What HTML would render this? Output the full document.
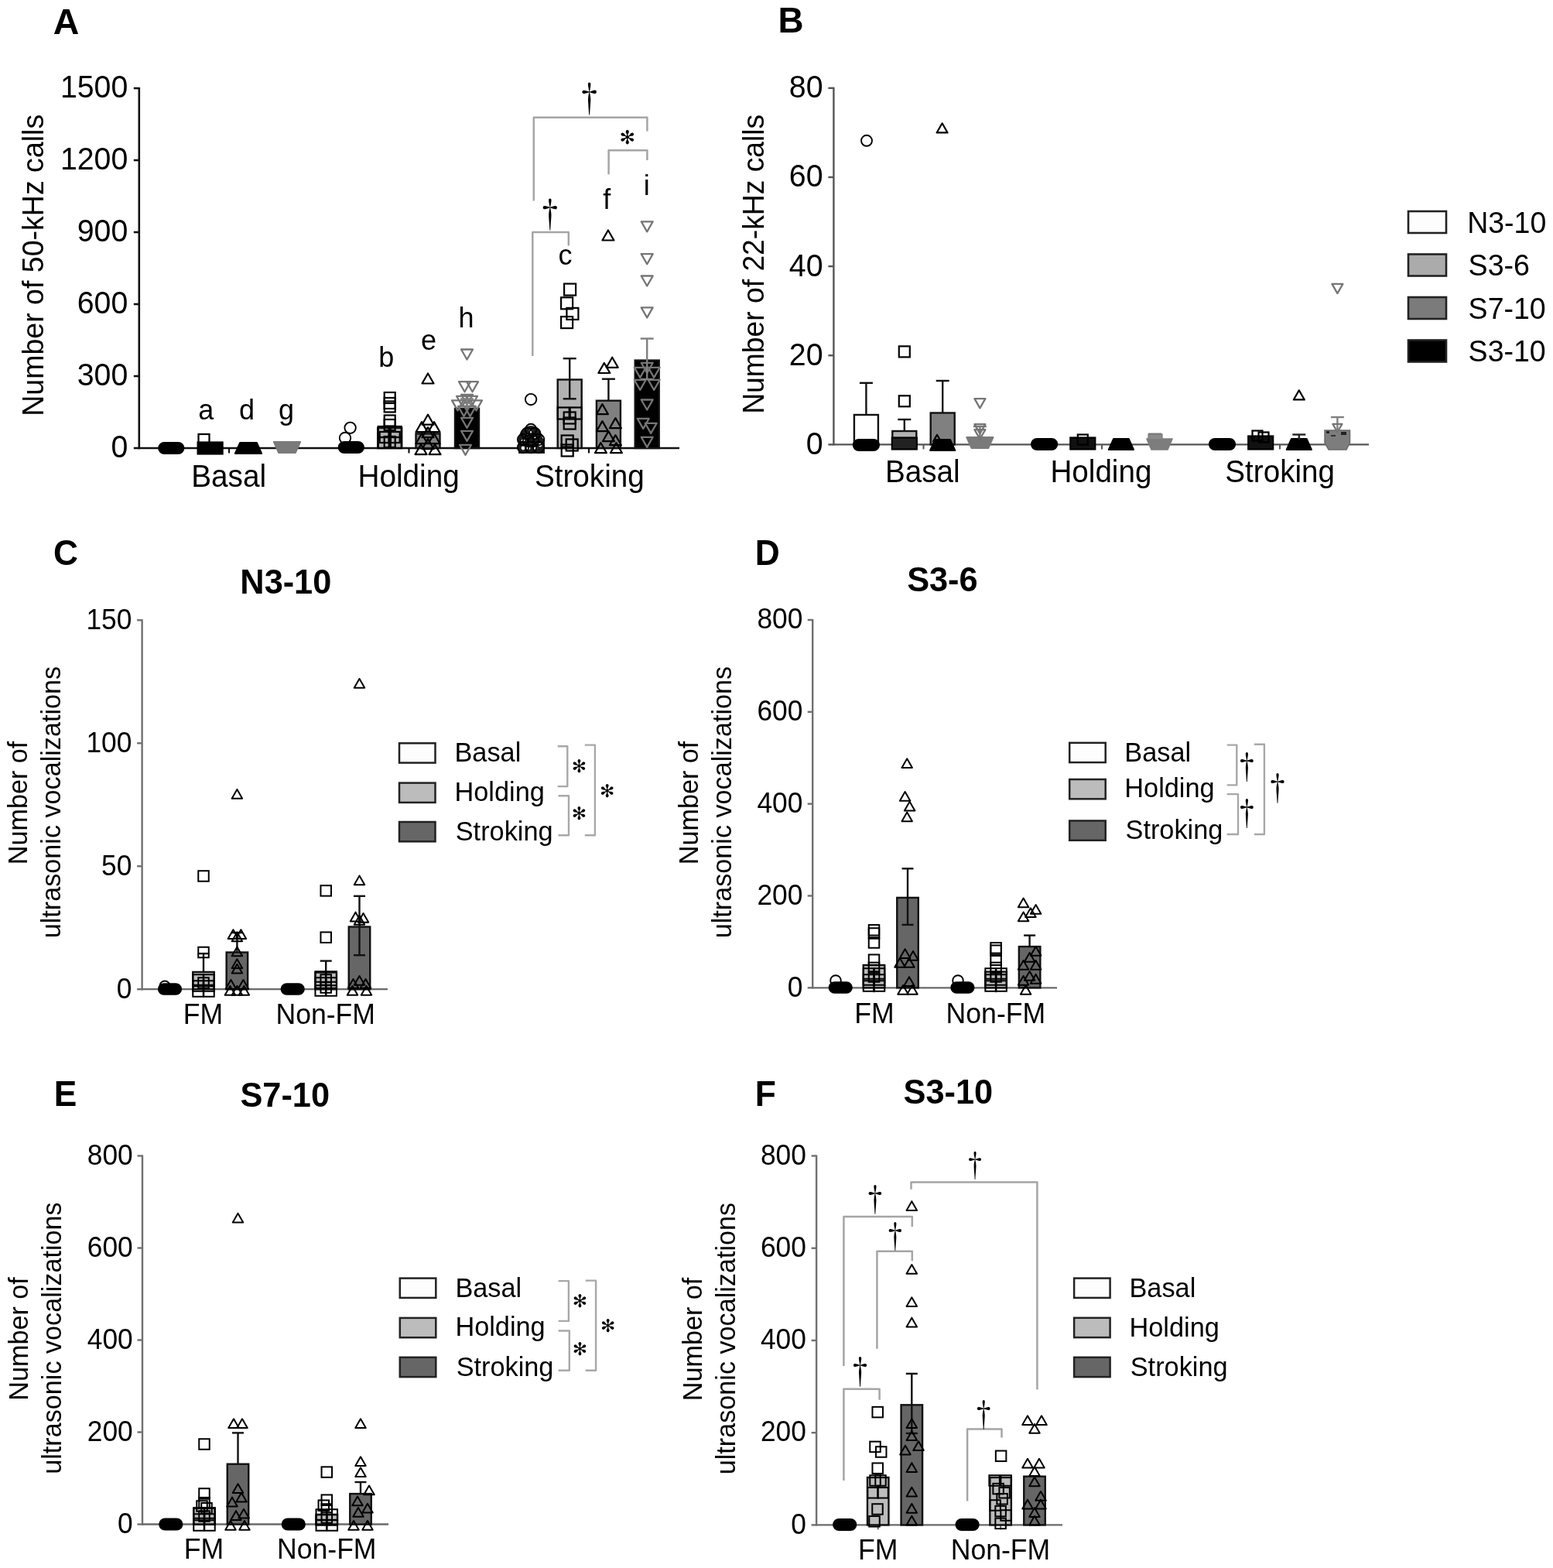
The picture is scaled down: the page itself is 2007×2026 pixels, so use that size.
<!DOCTYPE html>
<html><head><meta charset="utf-8"><title>Ultrasonic vocalizations figure</title>
<style>html,body{margin:0;padding:0;background:#fff;} svg{display:block;}</style>
</head><body>
<svg width="2007" height="2026" viewBox="0 0 2007 2026" font-family="'Liberation Sans', Arial, sans-serif">
<rect x="0" y="0" width="2007" height="2026" fill="#fff"/>
<text transform="translate(68.74,43.90) scale(1,1.0)" font-size="46.50" font-weight="bold" fill="#000">A</text>
<text transform="translate(55.80,341.85) rotate(-90) scale(1,1.04)" x="-195.93" y="0" font-size="37.54" fill="#000">Number of 50-kHz calls</text>
<line x1="179.80" y1="113.00" x2="179.80" y2="580.20" stroke="#111" stroke-width="2.6"/>
<line x1="172.80" y1="579.00" x2="179.80" y2="579.00" stroke="#111" stroke-width="2.6"/>
<text transform="translate(143.48,591.46) scale(1,1.04)" font-size="39.30" fill="#000">0</text>
<line x1="172.80" y1="486.00" x2="179.80" y2="486.00" stroke="#111" stroke-width="2.6"/>
<text transform="translate(99.76,498.46) scale(1,1.04)" font-size="39.30" fill="#000">300</text>
<line x1="172.80" y1="393.00" x2="179.80" y2="393.00" stroke="#111" stroke-width="2.6"/>
<text transform="translate(99.76,405.46) scale(1,1.04)" font-size="39.30" fill="#000">600</text>
<line x1="172.80" y1="300.00" x2="179.80" y2="300.00" stroke="#111" stroke-width="2.6"/>
<text transform="translate(99.76,312.46) scale(1,1.04)" font-size="39.30" fill="#000">900</text>
<line x1="172.80" y1="207.00" x2="179.80" y2="207.00" stroke="#111" stroke-width="2.6"/>
<text transform="translate(77.91,219.46) scale(1,1.04)" font-size="39.30" fill="#000">1200</text>
<line x1="172.80" y1="114.00" x2="179.80" y2="114.00" stroke="#111" stroke-width="2.6"/>
<text transform="translate(77.91,126.46) scale(1,1.04)" font-size="39.30" fill="#000">1500</text>
<line x1="179.80" y1="579.00" x2="878.00" y2="579.00" stroke="#111" stroke-width="2.6"/>
<line x1="296.00" y1="579.00" x2="296.00" y2="585.50" stroke="#111" stroke-width="2.2"/>
<line x1="528.50" y1="579.00" x2="528.50" y2="585.50" stroke="#111" stroke-width="2.2"/>
<line x1="761.00" y1="579.00" x2="761.00" y2="585.50" stroke="#111" stroke-width="2.2"/>
<text transform="translate(247.30,628.70) scale(1,1.04)" font-size="38.70" fill="#000">Basal</text>
<text transform="translate(462.54,628.60) scale(1,1.04)" font-size="38.70" fill="#000">Holding</text>
<text transform="translate(690.88,628.60) scale(1,1.04)" font-size="38.70" fill="#000">Stroking</text>
<rect x="205.30" y="572.00" width="32.00" height="14.00" rx="7.00" fill="#000" stroke="#000" stroke-width="2.2"/>
<rect x="255.60" y="571.50" width="32.00" height="15.00" fill="#000" stroke="#000" stroke-width="2.2"/>
<rect x="256.50" y="561.00" width="14" height="14" fill="none" stroke="#000" stroke-width="2.2"/>
<polygon points="310.30,572.00 331.70,572.00 338.00,586.00 304.00,586.00" fill="#000" stroke="#000" stroke-width="2.2" stroke-linejoin="round"/>
<polygon points="354.00,571.00 388.00,571.00 381.70,585.00 360.30,585.00" fill="#7a7a7a" stroke="#7a7a7a" stroke-width="2.2" stroke-linejoin="round"/>
<text transform="translate(256.22,541.80) scale(1,1.04)" font-size="36.00" fill="#000">a</text>
<text transform="translate(308.89,541.80) scale(1,1.04)" font-size="36.00" fill="#000">d</text>
<text transform="translate(359.89,541.80) scale(1,1.04)" font-size="36.00" fill="#000">g</text>
<rect x="437.80" y="571.00" width="32.00" height="14.00" rx="7.00" fill="#000" stroke="#000" stroke-width="2.2"/>
<circle cx="452.60" cy="552.80" r="7.2" fill="none" stroke="#000" stroke-width="1.9"/>
<circle cx="446.00" cy="566.00" r="7.2" fill="none" stroke="#000" stroke-width="1.9"/>
<rect x="488.20" y="552.96" width="31.00" height="26.04" fill="#b2b2b2" stroke="#111" stroke-width="2.4"/>
<rect x="496.70" y="507.00" width="14" height="14" fill="none" stroke="#000" stroke-width="2.2"/>
<rect x="496.70" y="514.00" width="14" height="14" fill="none" stroke="#000" stroke-width="2.2"/>
<rect x="496.70" y="518.50" width="14" height="14" fill="none" stroke="#000" stroke-width="2.2"/>
<rect x="496.70" y="536.50" width="14" height="14" fill="none" stroke="#000" stroke-width="2.2"/>
<rect x="496.70" y="542.00" width="14" height="14" fill="none" stroke="#000" stroke-width="2.2"/>
<rect x="488.70" y="551.00" width="14" height="14" fill="none" stroke="#000" stroke-width="2.2"/>
<rect x="504.70" y="551.00" width="14" height="14" fill="none" stroke="#000" stroke-width="2.2"/>
<rect x="490.70" y="558.00" width="14" height="14" fill="none" stroke="#000" stroke-width="2.2"/>
<rect x="502.70" y="558.00" width="14" height="14" fill="none" stroke="#000" stroke-width="2.2"/>
<rect x="488.70" y="565.00" width="14" height="14" fill="none" stroke="#000" stroke-width="2.2"/>
<rect x="504.70" y="565.00" width="14" height="14" fill="none" stroke="#000" stroke-width="2.2"/>
<rect x="496.70" y="564.00" width="14" height="14" fill="none" stroke="#000" stroke-width="2.2"/>
<rect x="537.50" y="560.40" width="31.00" height="18.60" fill="#808080" stroke="#111" stroke-width="2.4"/>
<polygon points="553.00,482.47 560.50,495.52 545.50,495.52" fill="none" stroke="#000" stroke-width="2.2" stroke-linejoin="round"/>
<polygon points="553.00,535.67 560.50,548.72 545.50,548.72" fill="none" stroke="#000" stroke-width="2.2" stroke-linejoin="round"/>
<polygon points="545.00,545.17 552.50,558.22 537.50,558.22" fill="none" stroke="#000" stroke-width="2.2" stroke-linejoin="round"/>
<polygon points="561.00,545.17 568.50,558.22 553.50,558.22" fill="none" stroke="#000" stroke-width="2.2" stroke-linejoin="round"/>
<polygon points="553.00,552.17 560.50,565.22 545.50,565.22" fill="none" stroke="#000" stroke-width="2.2" stroke-linejoin="round"/>
<polygon points="545.00,560.17 552.50,573.22 537.50,573.22" fill="none" stroke="#000" stroke-width="2.2" stroke-linejoin="round"/>
<polygon points="561.00,560.17 568.50,573.22 553.50,573.22" fill="none" stroke="#000" stroke-width="2.2" stroke-linejoin="round"/>
<polygon points="553.00,567.17 560.50,580.22 545.50,580.22" fill="none" stroke="#000" stroke-width="2.2" stroke-linejoin="round"/>
<polygon points="544.00,574.17 551.50,587.22 536.50,587.22" fill="none" stroke="#000" stroke-width="2.2" stroke-linejoin="round"/>
<polygon points="562.00,574.17 569.50,587.22 554.50,587.22" fill="none" stroke="#000" stroke-width="2.2" stroke-linejoin="round"/>
<rect x="588.00" y="527.85" width="31.00" height="51.15" fill="#000000" stroke="#111" stroke-width="2.4"/>
<polygon points="603.50,464.53 611.00,451.48 596.00,451.48" fill="none" stroke="#757575" stroke-width="2.3" stroke-linejoin="round"/>
<polygon points="600.50,506.23 608.00,493.18 593.00,493.18" fill="none" stroke="#757575" stroke-width="2.3" stroke-linejoin="round"/>
<polygon points="610.50,506.23 618.00,493.18 603.00,493.18" fill="none" stroke="#757575" stroke-width="2.3" stroke-linejoin="round"/>
<polygon points="597.50,524.83 605.00,511.78 590.00,511.78" fill="none" stroke="#757575" stroke-width="2.3" stroke-linejoin="round"/>
<polygon points="603.50,522.83 611.00,509.78 596.00,509.78" fill="none" stroke="#757575" stroke-width="2.3" stroke-linejoin="round"/>
<polygon points="609.50,524.83 617.00,511.78 602.00,511.78" fill="none" stroke="#757575" stroke-width="2.3" stroke-linejoin="round"/>
<polygon points="591.50,530.43 599.00,517.38 584.00,517.38" fill="none" stroke="#757575" stroke-width="2.3" stroke-linejoin="round"/>
<polygon points="615.50,530.43 623.00,517.38 608.00,517.38" fill="none" stroke="#757575" stroke-width="2.3" stroke-linejoin="round"/>
<polygon points="599.50,537.83 607.00,524.78 592.00,524.78" fill="none" stroke="#757575" stroke-width="2.3" stroke-linejoin="round"/>
<polygon points="607.50,537.83 615.00,524.78 600.00,524.78" fill="none" stroke="#757575" stroke-width="2.3" stroke-linejoin="round"/>
<polygon points="603.50,552.83 611.00,539.78 596.00,539.78" fill="none" stroke="#757575" stroke-width="2.3" stroke-linejoin="round"/>
<polygon points="603.50,569.83 611.00,556.78 596.00,556.78" fill="none" stroke="#757575" stroke-width="2.3" stroke-linejoin="round"/>
<polygon points="601.50,587.83 609.00,574.78 594.00,574.78" fill="none" stroke="#757575" stroke-width="2.3" stroke-linejoin="round"/>
<line x1="603.50" y1="515.45" x2="603.50" y2="527.85" stroke="#808080" stroke-width="2.4"/>
<line x1="595.00" y1="515.45" x2="612.00" y2="515.45" stroke="#808080" stroke-width="2.4"/>
<text transform="translate(489.18,473.50) scale(1,1.04)" font-size="36.00" fill="#000">b</text>
<text transform="translate(544.02,452.00) scale(1,1.04)" font-size="36.00" fill="#000">e</text>
<text transform="translate(592.41,423.00) scale(1,1.04)" font-size="36.00" fill="#000">h</text>
<path d="M670,586 L670,566 Q672,556 679,552 Q686,548 693,552 Q700,557 701,566 L704,568 L704,586 Z" fill="#1c1c1c"/>
<circle cx="676" cy="570" r="2.4" fill="#f4f4f4"/>
<circle cx="683" cy="563" r="2.4" fill="#f4f4f4"/>
<circle cx="690" cy="566" r="2.4" fill="#f4f4f4"/>
<circle cx="676" cy="579" r="2.4" fill="#f4f4f4"/>
<circle cx="683" cy="579" r="2.4" fill="#f4f4f4"/>
<circle cx="692" cy="579" r="2.4" fill="#f4f4f4"/>
<circle cx="698" cy="575" r="2.4" fill="#f4f4f4"/>
<circle cx="686" cy="557" r="2.4" fill="#f4f4f4"/>
<circle cx="686.10" cy="516.10" r="7.2" fill="none" stroke="#000" stroke-width="1.9"/>
<circle cx="681.10" cy="560.00" r="7.2" fill="none" stroke="#000" stroke-width="1.9"/>
<circle cx="691.10" cy="560.00" r="7.2" fill="none" stroke="#000" stroke-width="1.9"/>
<circle cx="686.10" cy="555.00" r="7.2" fill="none" stroke="#000" stroke-width="1.9"/>
<circle cx="676.10" cy="568.00" r="7.2" fill="none" stroke="#000" stroke-width="1.9"/>
<circle cx="696.10" cy="568.00" r="7.2" fill="none" stroke="#000" stroke-width="1.9"/>
<circle cx="683.10" cy="570.00" r="7.2" fill="none" stroke="#000" stroke-width="1.9"/>
<circle cx="689.10" cy="570.00" r="7.2" fill="none" stroke="#000" stroke-width="1.9"/>
<circle cx="676.10" cy="578.00" r="7.2" fill="none" stroke="#000" stroke-width="1.9"/>
<circle cx="686.10" cy="578.00" r="7.2" fill="none" stroke="#000" stroke-width="1.9"/>
<circle cx="696.10" cy="578.00" r="7.2" fill="none" stroke="#000" stroke-width="1.9"/>
<rect x="720.70" y="490.50" width="31.00" height="88.50" fill="#b2b2b2" stroke="#111" stroke-width="2.4"/>
<line x1="736.20" y1="463.20" x2="736.20" y2="515.30" stroke="#111" stroke-width="2.4"/>
<line x1="727.70" y1="463.20" x2="744.70" y2="463.20" stroke="#111" stroke-width="2.4"/>
<line x1="727.70" y1="515.30" x2="744.70" y2="515.30" stroke="#111" stroke-width="2.4"/>
<rect x="729.10" y="366.60" width="15" height="15" fill="none" stroke="#000" stroke-width="2.2"/>
<rect x="725.10" y="384.30" width="15" height="15" fill="none" stroke="#000" stroke-width="2.2"/>
<rect x="732.40" y="397.90" width="15" height="15" fill="none" stroke="#000" stroke-width="2.2"/>
<rect x="725.10" y="409.10" width="15" height="15" fill="none" stroke="#000" stroke-width="2.2"/>
<rect x="720.70" y="526.50" width="15" height="15" fill="none" stroke="#000" stroke-width="2.2"/>
<rect x="736.70" y="526.50" width="15" height="15" fill="none" stroke="#000" stroke-width="2.2"/>
<rect x="728.70" y="532.50" width="15" height="15" fill="none" stroke="#000" stroke-width="2.2"/>
<rect x="728.70" y="539.50" width="15" height="15" fill="none" stroke="#000" stroke-width="2.2"/>
<rect x="725.70" y="562.50" width="15" height="15" fill="none" stroke="#000" stroke-width="2.2"/>
<rect x="731.70" y="567.50" width="15" height="15" fill="none" stroke="#000" stroke-width="2.2"/>
<rect x="725.70" y="574.50" width="15" height="15" fill="none" stroke="#000" stroke-width="2.2"/>
<rect x="770.90" y="517.70" width="31.00" height="61.30" fill="#808080" stroke="#111" stroke-width="2.4"/>
<line x1="786.40" y1="489.70" x2="786.40" y2="517.70" stroke="#111" stroke-width="2.4"/>
<line x1="777.90" y1="489.70" x2="794.90" y2="489.70" stroke="#111" stroke-width="2.4"/>
<polygon points="785.90,297.47 793.40,310.52 778.40,310.52" fill="none" stroke="#000" stroke-width="2.2" stroke-linejoin="round"/>
<polygon points="791.20,461.77 798.70,474.82 783.70,474.82" fill="none" stroke="#000" stroke-width="2.2" stroke-linejoin="round"/>
<polygon points="780.80,468.97 788.30,482.02 773.30,482.02" fill="none" stroke="#000" stroke-width="2.2" stroke-linejoin="round"/>
<polygon points="778.40,522.17 785.90,535.22 770.90,535.22" fill="none" stroke="#000" stroke-width="2.2" stroke-linejoin="round"/>
<polygon points="795.40,540.17 802.90,553.22 787.90,553.22" fill="none" stroke="#000" stroke-width="2.2" stroke-linejoin="round"/>
<polygon points="778.40,544.17 785.90,557.22 770.90,557.22" fill="none" stroke="#000" stroke-width="2.2" stroke-linejoin="round"/>
<polygon points="786.40,557.17 793.90,570.22 778.90,570.22" fill="none" stroke="#000" stroke-width="2.2" stroke-linejoin="round"/>
<polygon points="795.40,562.17 802.90,575.22 787.90,575.22" fill="none" stroke="#000" stroke-width="2.2" stroke-linejoin="round"/>
<polygon points="776.40,572.17 783.90,585.22 768.90,585.22" fill="none" stroke="#000" stroke-width="2.2" stroke-linejoin="round"/>
<polygon points="796.40,572.17 803.90,585.22 788.90,585.22" fill="none" stroke="#000" stroke-width="2.2" stroke-linejoin="round"/>
<rect x="820.70" y="465.60" width="31.00" height="113.40" fill="#000000" stroke="#111" stroke-width="2.4"/>
<polygon points="836.20,299.33 843.70,286.28 828.70,286.28" fill="none" stroke="#757575" stroke-width="2.3" stroke-linejoin="round"/>
<polygon points="836.20,341.23 843.70,328.18 828.70,328.18" fill="none" stroke="#757575" stroke-width="2.3" stroke-linejoin="round"/>
<polygon points="836.20,369.53 843.70,356.48 828.70,356.48" fill="none" stroke="#757575" stroke-width="2.3" stroke-linejoin="round"/>
<polygon points="836.20,410.43 843.70,397.38 828.70,397.38" fill="none" stroke="#757575" stroke-width="2.3" stroke-linejoin="round"/>
<polygon points="827.20,487.83 834.70,474.78 819.70,474.78" fill="none" stroke="#757575" stroke-width="2.3" stroke-linejoin="round"/>
<polygon points="845.20,487.83 852.70,474.78 837.70,474.78" fill="none" stroke="#757575" stroke-width="2.3" stroke-linejoin="round"/>
<polygon points="836.20,481.83 843.70,468.78 828.70,468.78" fill="none" stroke="#757575" stroke-width="2.3" stroke-linejoin="round"/>
<polygon points="827.20,503.83 834.70,490.78 819.70,490.78" fill="none" stroke="#757575" stroke-width="2.3" stroke-linejoin="round"/>
<polygon points="845.20,503.83 852.70,490.78 837.70,490.78" fill="none" stroke="#757575" stroke-width="2.3" stroke-linejoin="round"/>
<polygon points="836.20,529.53 843.70,516.48 828.70,516.48" fill="none" stroke="#757575" stroke-width="2.3" stroke-linejoin="round"/>
<polygon points="831.20,553.83 838.70,540.78 823.70,540.78" fill="none" stroke="#757575" stroke-width="2.3" stroke-linejoin="round"/>
<polygon points="841.20,559.83 848.70,546.78 833.70,546.78" fill="none" stroke="#757575" stroke-width="2.3" stroke-linejoin="round"/>
<polygon points="836.20,577.83 843.70,564.78 828.70,564.78" fill="none" stroke="#757575" stroke-width="2.3" stroke-linejoin="round"/>
<line x1="836.20" y1="437.50" x2="836.20" y2="490.00" stroke="#808080" stroke-width="2.4"/>
<line x1="827.70" y1="437.50" x2="844.70" y2="437.50" stroke="#808080" stroke-width="2.4"/>
<line x1="827.70" y1="490.00" x2="844.70" y2="490.00" stroke="#808080" stroke-width="2.4"/>
<text transform="translate(721.41,341.60) scale(1,1.04)" font-size="36.00" fill="#000">c</text>
<text transform="translate(779.32,269.60) scale(1,1.04)" font-size="36.00" fill="#000">f</text>
<text transform="translate(831.71,252.10) scale(1,1.04)" font-size="36.00" fill="#000">i</text>
<polyline points="689.80,259.50 689.80,151.80 836.40,151.80 836.40,169.40" stroke="#a5a5a5" stroke-width="2.5" fill="none" stroke-linejoin="round"/>
<polyline points="786.60,225.20 786.60,194.30 836.40,194.30 836.40,207.00" stroke="#a5a5a5" stroke-width="2.5" fill="none" stroke-linejoin="round"/>
<polyline points="688.30,460.00 688.30,299.90 734.80,299.90 734.80,317.40" stroke="#a5a5a5" stroke-width="2.5" fill="none" stroke-linejoin="round"/>
<text transform="translate(761.70,145.07) scale(0.8,1)" font-family="'Noto Serif CJK SC', 'Liberation Serif', serif" font-size="47.83" text-anchor="middle" fill="#000">&#8224;</text>
<text transform="translate(710.80,293.79) scale(0.8,1)" font-family="'Noto Serif CJK SC', 'Liberation Serif', serif" font-size="46.99" text-anchor="middle" fill="#000">&#8224;</text>
<text x="810.80" y="186.42" font-family="'DejaVu Sans', sans-serif" font-size="24.50" text-anchor="middle" fill="#000">&#10043;</text>
<text transform="translate(1005.44,41.70) scale(1,1.0)" font-size="45.75" font-weight="bold" fill="#000">B</text>
<line x1="1077.40" y1="112.80" x2="1077.40" y2="575.60" stroke="#555" stroke-width="2.4"/>
<line x1="1070.40" y1="574.40" x2="1077.40" y2="574.40" stroke="#555" stroke-width="2.4"/>
<text transform="translate(1041.68,586.86) scale(1,1.04)" font-size="39.30" fill="#000">0</text>
<line x1="1070.40" y1="459.25" x2="1077.40" y2="459.25" stroke="#555" stroke-width="2.4"/>
<text transform="translate(1019.82,471.71) scale(1,1.04)" font-size="39.30" fill="#000">20</text>
<line x1="1070.40" y1="344.10" x2="1077.40" y2="344.10" stroke="#555" stroke-width="2.4"/>
<text transform="translate(1019.82,356.56) scale(1,1.04)" font-size="39.30" fill="#000">40</text>
<line x1="1070.40" y1="228.95" x2="1077.40" y2="228.95" stroke="#555" stroke-width="2.4"/>
<text transform="translate(1019.82,241.41) scale(1,1.04)" font-size="39.30" fill="#000">60</text>
<line x1="1070.40" y1="113.80" x2="1077.40" y2="113.80" stroke="#555" stroke-width="2.4"/>
<text transform="translate(1019.82,126.26) scale(1,1.04)" font-size="39.30" fill="#000">80</text>
<line x1="1077.40" y1="574.40" x2="1769.00" y2="574.40" stroke="#555" stroke-width="2.4"/>
<line x1="1193.50" y1="574.40" x2="1193.50" y2="580.40" stroke="#555" stroke-width="2.0"/>
<line x1="1424.00" y1="574.40" x2="1424.00" y2="580.40" stroke="#555" stroke-width="2.0"/>
<line x1="1654.00" y1="574.40" x2="1654.00" y2="580.40" stroke="#555" stroke-width="2.0"/>
<text transform="translate(986.50,340.40) rotate(-90) scale(1,1.04)" x="-194.46" y="0" font-size="37.26" fill="#000">Number of 22-kHz calls</text>
<text transform="translate(1144.03,623.00) scale(1,1.04)" font-size="38.60" fill="#000">Basal</text>
<text transform="translate(1357.51,623.20) scale(1,1.04)" font-size="38.60" fill="#000">Holding</text>
<text transform="translate(1583.37,623.20) scale(1,1.04)" font-size="38.60" fill="#000">Stroking</text>
<rect x="1103.90" y="536.00" width="31.00" height="38.40" fill="#fff" stroke="#111" stroke-width="2.4"/>
<line x1="1119.40" y1="494.80" x2="1119.40" y2="536.00" stroke="#111" stroke-width="2.4"/>
<line x1="1110.90" y1="494.80" x2="1127.90" y2="494.80" stroke="#111" stroke-width="2.4"/>
<rect x="1102.90" y="568.00" width="33.00" height="14.00" rx="7.00" fill="#000" stroke="#000" stroke-width="2.2"/>
<circle cx="1120.00" cy="181.80" r="7" fill="none" stroke="#000" stroke-width="1.9"/>
<rect x="1153.30" y="557.00" width="31.00" height="17.40" fill="#b2b2b2" stroke="#111" stroke-width="2.4"/>
<line x1="1168.80" y1="542.00" x2="1168.80" y2="557.00" stroke="#111" stroke-width="2.4"/>
<line x1="1160.30" y1="542.00" x2="1177.30" y2="542.00" stroke="#111" stroke-width="2.4"/>
<rect x="1152.80" y="565.50" width="32.00" height="15.00" fill="#222" stroke="#000" stroke-width="2.2"/>
<rect x="1161.80" y="447.40" width="14" height="14" fill="none" stroke="#000" stroke-width="2.2"/>
<rect x="1161.80" y="511.30" width="14" height="14" fill="none" stroke="#000" stroke-width="2.2"/>
<rect x="1202.70" y="533.50" width="31.00" height="40.90" fill="#808080" stroke="#111" stroke-width="2.4"/>
<line x1="1218.20" y1="492.00" x2="1218.20" y2="533.50" stroke="#111" stroke-width="2.4"/>
<line x1="1209.70" y1="492.00" x2="1226.70" y2="492.00" stroke="#111" stroke-width="2.4"/>
<polygon points="1208.50,568.00 1227.90,568.00 1234.20,582.00 1202.20,582.00" fill="#000" stroke="#000" stroke-width="2.2" stroke-linejoin="round"/>
<polygon points="1217.60,159.29 1224.60,171.47 1210.60,171.47" fill="none" stroke="#000" stroke-width="2.2" stroke-linejoin="round"/>
<polygon points="1211.00,561.78 1216.00,570.48 1206.00,570.48" fill="none" stroke="#000" stroke-width="2.2" stroke-linejoin="round"/>
<polygon points="1249.40,565.00 1283.40,565.00 1277.10,579.00 1255.70,579.00" fill="#7a7a7a" stroke="#7a7a7a" stroke-width="2.2" stroke-linejoin="round"/>
<line x1="1266.40" y1="551.00" x2="1266.40" y2="566.00" stroke="#7a7a7a" stroke-width="2.4"/>
<line x1="1257.90" y1="551.00" x2="1274.90" y2="551.00" stroke="#7a7a7a" stroke-width="2.4"/>
<polygon points="1266.40,527.31 1273.40,515.13 1259.40,515.13" fill="none" stroke="#757575" stroke-width="2.3" stroke-linejoin="round"/>
<polygon points="1266.40,560.31 1273.40,548.13 1259.40,548.13" fill="none" stroke="#757575" stroke-width="2.3" stroke-linejoin="round"/>
<polygon points="1266.40,567.31 1273.40,555.13 1259.40,555.13" fill="none" stroke="#757575" stroke-width="2.3" stroke-linejoin="round"/>
<rect x="1333.10" y="567.00" width="33.00" height="14.00" rx="7.00" fill="#000" stroke="#000" stroke-width="2.2"/>
<rect x="1383.30" y="565.50" width="32.00" height="15.00" fill="#111" stroke="#000" stroke-width="2.2"/>
<rect x="1392.80" y="561.50" width="13" height="13" fill="none" stroke="#000" stroke-width="2.2"/>
<polygon points="1439.20,567.00 1458.60,567.00 1464.90,581.00 1432.90,581.00" fill="#000" stroke="#000" stroke-width="2.2" stroke-linejoin="round"/>
<polygon points="1482,567 1515,567 1513,572 1509,581 1488,581 1484,572" fill="#7d7d7d" stroke="#7d7d7d" stroke-width="1.5"/>
<rect x="1484" y="561" width="18" height="7" fill="#8a8a8a" stroke="#7a7a7a" stroke-width="1.2"/>
<line x1="1484.00" y1="560.50" x2="1501.00" y2="560.50" stroke="#7a7a7a" stroke-width="2.0"/>
<rect x="1563.00" y="567.00" width="33.00" height="14.00" rx="7.00" fill="#000" stroke="#000" stroke-width="2.2"/>
<rect x="1613.20" y="563.50" width="32.00" height="17.00" fill="#111" stroke="#000" stroke-width="2.2"/>
<rect x="1618.50" y="556.50" width="13" height="13" fill="none" stroke="#000" stroke-width="2.2"/>
<rect x="1626.50" y="558.50" width="13" height="13" fill="none" stroke="#000" stroke-width="2.2"/>
<polygon points="1669.10,567.00 1688.50,567.00 1694.80,581.00 1662.80,581.00" fill="#000" stroke="#000" stroke-width="2.2" stroke-linejoin="round"/>
<line x1="1678.80" y1="561.50" x2="1678.80" y2="568.00" stroke="#222" stroke-width="2.4"/>
<line x1="1670.30" y1="561.50" x2="1687.30" y2="561.50" stroke="#222" stroke-width="2.4"/>
<polygon points="1678.80,504.29 1685.80,516.47 1671.80,516.47" fill="none" stroke="#000" stroke-width="2.2" stroke-linejoin="round"/>
<polygon points="1712,556 1744.5,556 1744.5,572 1740,581 1717,581 1712,572" fill="#7d7d7d" stroke="#6a6a6a" stroke-width="1.5"/>
<rect x="1714" y="557" width="4" height="3" fill="#222"/><rect x="1733" y="558" width="7" height="4" fill="#222"/><rect x="1720" y="562" width="6" height="2" fill="#333"/>
<line x1="1728.40" y1="539.00" x2="1728.40" y2="556.00" stroke="#808080" stroke-width="2.4"/>
<line x1="1719.90" y1="539.00" x2="1736.90" y2="539.00" stroke="#808080" stroke-width="2.4"/>
<polygon points="1728.40,379.11 1735.40,366.93 1721.40,366.93" fill="none" stroke="#757575" stroke-width="2.3" stroke-linejoin="round"/>
<polygon points="1728.40,558.26 1734.40,547.82 1722.40,547.82" fill="none" stroke="#757575" stroke-width="2.3" stroke-linejoin="round"/>
<rect x="1820.00" y="273.00" width="49.00" height="28.00" fill="#fdfdfd" stroke="#222" stroke-width="2.6"/>
<text transform="translate(1896.23,300.50) scale(1,1.04)" font-size="37.46" fill="#000">N3-10</text>
<rect x="1820.00" y="328.50" width="49.00" height="28.00" fill="#ababab" stroke="#222" stroke-width="2.6"/>
<text transform="translate(1897.59,356.00) scale(1,1.04)" font-size="37.57" fill="#000">S3-6</text>
<rect x="1820.00" y="384.00" width="49.00" height="28.00" fill="#7b7b7b" stroke="#222" stroke-width="2.6"/>
<text transform="translate(1897.60,411.50) scale(1,1.04)" font-size="37.54" fill="#000">S7-10</text>
<rect x="1820.00" y="439.50" width="49.00" height="28.00" fill="#000" stroke="#222" stroke-width="2.6"/>
<text transform="translate(1897.60,467.00) scale(1,1.04)" font-size="37.54" fill="#000">S3-10</text>
<text transform="translate(69.08,730.00) scale(1,1.04)" font-size="44.30" font-weight="bold" fill="#000">C</text>
<text transform="translate(310.37,767.10) scale(1,1.04)" font-size="43.30" font-weight="bold" fill="#000">N3-10</text>
<line x1="183.60" y1="800.30" x2="183.60" y2="1279.40" stroke="#707070" stroke-width="2.4"/>
<line x1="177.10" y1="1278.20" x2="183.60" y2="1278.20" stroke="#707070" stroke-width="2.4"/>
<text transform="translate(150.75,1289.51) scale(1,1.04)" font-size="35.30" fill="#000">0</text>
<line x1="177.10" y1="1119.23" x2="183.60" y2="1119.23" stroke="#707070" stroke-width="2.4"/>
<text transform="translate(131.11,1130.55) scale(1,1.04)" font-size="35.30" fill="#000">50</text>
<line x1="177.10" y1="960.27" x2="183.60" y2="960.27" stroke="#707070" stroke-width="2.4"/>
<text transform="translate(111.48,971.58) scale(1,1.04)" font-size="35.30" fill="#000">100</text>
<line x1="177.10" y1="801.30" x2="183.60" y2="801.30" stroke="#707070" stroke-width="2.4"/>
<text transform="translate(111.48,812.61) scale(1,1.04)" font-size="35.30" fill="#000">150</text>
<line x1="183.60" y1="1278.20" x2="501.00" y2="1278.20" stroke="#6a6a6a" stroke-width="2.3"/>
<line x1="263.00" y1="1278.20" x2="263.00" y2="1284.20" stroke="#6a6a6a" stroke-width="2.0"/>
<line x1="421.20" y1="1278.20" x2="421.20" y2="1284.20" stroke="#6a6a6a" stroke-width="2.0"/>
<text transform="translate(236.78,1323.00) scale(1,1.04)" font-size="35.60" fill="#000">FM</text>
<text transform="translate(356.47,1323.00) scale(1,1.04)" font-size="35.60" fill="#000">Non-FM</text>
<text transform="translate(35.40,1036.00) rotate(-90) scale(1,1.04)" x="-81.26" y="0" font-size="34.2">Number of</text>
<text transform="translate(78.30,1036.00) rotate(-90) scale(1,1.04)" x="-176.33" y="0" font-size="34.2">ultrasonic vocalizations</text>
<rect x="205.00" y="1271.25" width="29.00" height="13.50" rx="6.75" fill="#000" stroke="#000" stroke-width="2.2"/>
<circle cx="213.00" cy="1274.00" r="6.5" fill="none" stroke="#000" stroke-width="1.9"/>
<rect x="249.25" y="1255.94" width="27.50" height="22.26" fill="#bcbcbc" stroke="#111" stroke-width="2.4"/>
<line x1="263.00" y1="1232.10" x2="263.00" y2="1255.94" stroke="#111" stroke-width="2.4"/>
<line x1="255.50" y1="1232.10" x2="270.50" y2="1232.10" stroke="#111" stroke-width="2.4"/>
<rect x="256.25" y="1125.20" width="13.5" height="13.5" fill="none" stroke="#000" stroke-width="2.0"/>
<rect x="256.25" y="1223.76" width="13.5" height="13.5" fill="none" stroke="#000" stroke-width="2.0"/>
<rect x="249.25" y="1259.25" width="13.5" height="13.5" fill="none" stroke="#000" stroke-width="2.0"/>
<rect x="263.25" y="1259.25" width="13.5" height="13.5" fill="none" stroke="#000" stroke-width="2.0"/>
<rect x="249.25" y="1267.25" width="13.5" height="13.5" fill="none" stroke="#000" stroke-width="2.0"/>
<rect x="263.25" y="1267.25" width="13.5" height="13.5" fill="none" stroke="#000" stroke-width="2.0"/>
<rect x="256.25" y="1263.25" width="13.5" height="13.5" fill="none" stroke="#000" stroke-width="2.0"/>
<rect x="249.25" y="1274.25" width="13.5" height="13.5" fill="none" stroke="#000" stroke-width="2.0"/>
<rect x="263.25" y="1274.25" width="13.5" height="13.5" fill="none" stroke="#000" stroke-width="2.0"/>
<rect x="292.65" y="1230.51" width="27.50" height="47.69" fill="#666666" stroke="#111" stroke-width="2.4"/>
<line x1="306.40" y1="1205.08" x2="306.40" y2="1230.51" stroke="#111" stroke-width="2.4"/>
<line x1="298.90" y1="1205.08" x2="313.90" y2="1205.08" stroke="#111" stroke-width="2.4"/>
<polygon points="306.40,1019.99 313.15,1031.73 299.65,1031.73" fill="none" stroke="#000" stroke-width="2.0" stroke-linejoin="round"/>
<polygon points="301.40,1201.21 308.15,1212.95 294.65,1212.95" fill="none" stroke="#000" stroke-width="2.0" stroke-linejoin="round"/>
<polygon points="311.40,1201.21 318.15,1212.95 304.65,1212.95" fill="none" stroke="#000" stroke-width="2.0" stroke-linejoin="round"/>
<polygon points="306.40,1204.39 313.15,1216.13 299.65,1216.13" fill="none" stroke="#000" stroke-width="2.0" stroke-linejoin="round"/>
<polygon points="306.40,1223.46 313.15,1235.21 299.65,1235.21" fill="none" stroke="#000" stroke-width="2.0" stroke-linejoin="round"/>
<polygon points="306.40,1239.36 313.15,1251.10 299.65,1251.10" fill="none" stroke="#000" stroke-width="2.0" stroke-linejoin="round"/>
<polygon points="306.40,1245.72 313.15,1257.46 299.65,1257.46" fill="none" stroke="#000" stroke-width="2.0" stroke-linejoin="round"/>
<polygon points="298.40,1265.95 305.15,1277.70 291.65,1277.70" fill="none" stroke="#000" stroke-width="2.0" stroke-linejoin="round"/>
<polygon points="314.40,1265.95 321.15,1277.70 307.65,1277.70" fill="none" stroke="#000" stroke-width="2.0" stroke-linejoin="round"/>
<polygon points="297.40,1273.95 304.15,1285.70 290.65,1285.70" fill="none" stroke="#000" stroke-width="2.0" stroke-linejoin="round"/>
<polygon points="306.40,1273.95 313.15,1285.70 299.65,1285.70" fill="none" stroke="#000" stroke-width="2.0" stroke-linejoin="round"/>
<polygon points="315.40,1273.95 322.15,1285.70 308.65,1285.70" fill="none" stroke="#000" stroke-width="2.0" stroke-linejoin="round"/>
<rect x="363.70" y="1271.25" width="29.00" height="13.50" rx="6.75" fill="#000" stroke="#000" stroke-width="2.2"/>
<rect x="407.45" y="1256.50" width="27.50" height="21.70" fill="#bcbcbc" stroke="#111" stroke-width="2.4"/>
<line x1="421.20" y1="1241.60" x2="421.20" y2="1256.50" stroke="#111" stroke-width="2.4"/>
<line x1="413.70" y1="1241.60" x2="428.70" y2="1241.60" stroke="#111" stroke-width="2.4"/>
<rect x="414.45" y="1144.15" width="13.5" height="13.5" fill="none" stroke="#000" stroke-width="2.0"/>
<rect x="414.45" y="1204.45" width="13.5" height="13.5" fill="none" stroke="#000" stroke-width="2.0"/>
<rect x="407.45" y="1255.25" width="13.5" height="13.5" fill="none" stroke="#000" stroke-width="2.0"/>
<rect x="421.45" y="1255.25" width="13.5" height="13.5" fill="none" stroke="#000" stroke-width="2.0"/>
<rect x="407.45" y="1263.25" width="13.5" height="13.5" fill="none" stroke="#000" stroke-width="2.0"/>
<rect x="421.45" y="1263.25" width="13.5" height="13.5" fill="none" stroke="#000" stroke-width="2.0"/>
<rect x="414.45" y="1259.25" width="13.5" height="13.5" fill="none" stroke="#000" stroke-width="2.0"/>
<rect x="407.45" y="1273.25" width="13.5" height="13.5" fill="none" stroke="#000" stroke-width="2.0"/>
<rect x="421.45" y="1273.25" width="13.5" height="13.5" fill="none" stroke="#000" stroke-width="2.0"/>
<rect x="414.45" y="1269.25" width="13.5" height="13.5" fill="none" stroke="#000" stroke-width="2.0"/>
<rect x="450.75" y="1197.50" width="27.50" height="80.70" fill="#666666" stroke="#111" stroke-width="2.4"/>
<line x1="464.50" y1="1157.80" x2="464.50" y2="1234.20" stroke="#111" stroke-width="2.4"/>
<line x1="457.00" y1="1157.80" x2="472.00" y2="1157.80" stroke="#111" stroke-width="2.4"/>
<line x1="457.00" y1="1234.20" x2="472.00" y2="1234.20" stroke="#111" stroke-width="2.4"/>
<polygon points="464.50,876.95 471.25,888.70 457.75,888.70" fill="none" stroke="#000" stroke-width="2.0" stroke-linejoin="round"/>
<polygon points="464.50,1131.45 471.25,1143.20 457.75,1143.20" fill="none" stroke="#000" stroke-width="2.0" stroke-linejoin="round"/>
<polygon points="459.50,1178.65 466.25,1190.40 452.75,1190.40" fill="none" stroke="#000" stroke-width="2.0" stroke-linejoin="round"/>
<polygon points="469.50,1179.95 476.25,1191.70 462.75,1191.70" fill="none" stroke="#000" stroke-width="2.0" stroke-linejoin="round"/>
<polygon points="464.50,1182.95 471.25,1194.70 457.75,1194.70" fill="none" stroke="#000" stroke-width="2.0" stroke-linejoin="round"/>
<polygon points="456.50,1264.95 463.25,1276.70 449.75,1276.70" fill="none" stroke="#000" stroke-width="2.0" stroke-linejoin="round"/>
<polygon points="464.50,1260.95 471.25,1272.70 457.75,1272.70" fill="none" stroke="#000" stroke-width="2.0" stroke-linejoin="round"/>
<polygon points="472.50,1264.95 479.25,1276.70 465.75,1276.70" fill="none" stroke="#000" stroke-width="2.0" stroke-linejoin="round"/>
<polygon points="455.50,1273.95 462.25,1285.70 448.75,1285.70" fill="none" stroke="#000" stroke-width="2.0" stroke-linejoin="round"/>
<polygon points="473.50,1273.95 480.25,1285.70 466.75,1285.70" fill="none" stroke="#000" stroke-width="2.0" stroke-linejoin="round"/>
<rect x="516.00" y="960.30" width="46.50" height="25.30" fill="#fdfdfd" stroke="#222" stroke-width="2.5"/>
<text transform="translate(587.49,984.30) scale(1,1.04)" font-size="34.30" fill="#000">Basal</text>
<rect x="516.00" y="1011.60" width="46.50" height="25.30" fill="#bcbcbc" stroke="#222" stroke-width="2.5"/>
<text transform="translate(587.49,1035.30) scale(1,1.04)" font-size="34.30" fill="#000">Holding</text>
<rect x="516.00" y="1062.00" width="46.50" height="25.30" fill="#666666" stroke="#222" stroke-width="2.5"/>
<text transform="translate(588.74,1086.30) scale(1,1.04)" font-size="34.30" fill="#000">Stroking</text>
<polyline points="720.70,964.30 733.30,964.30 733.30,1016.10 720.70,1016.10" stroke="#a8a8a8" stroke-width="2.4" fill="none" stroke-linejoin="round"/>
<polyline points="721.50,1028.30 735.00,1028.30 735.00,1079.30 721.50,1079.30" stroke="#a8a8a8" stroke-width="2.4" fill="none" stroke-linejoin="round"/>
<polyline points="755.80,962.60 768.90,962.60 768.90,1079.30 755.80,1079.30" stroke="#a8a8a8" stroke-width="2.4" fill="none" stroke-linejoin="round"/>
<text x="748.30" y="998.18" font-family="'DejaVu Sans', sans-serif" font-size="23.00" text-anchor="middle" fill="#000">&#10043;</text>
<text x="748.30" y="1059.48" font-family="'DejaVu Sans', sans-serif" font-size="23.00" text-anchor="middle" fill="#000">&#10043;</text>
<text x="784.60" y="1030.28" font-family="'DejaVu Sans', sans-serif" font-size="23.00" text-anchor="middle" fill="#000">&#10043;</text>
<text transform="translate(975.84,729.50) scale(1,1.04)" font-size="44.30" font-weight="bold" fill="#000">D</text>
<text transform="translate(1172.13,764.20) scale(1,1.04)" font-size="43.30" font-weight="bold" fill="#000">S3-6</text>
<line x1="1050.20" y1="800.00" x2="1050.20" y2="1277.50" stroke="#707070" stroke-width="2.4"/>
<line x1="1043.70" y1="1276.30" x2="1050.20" y2="1276.30" stroke="#707070" stroke-width="2.4"/>
<text transform="translate(1017.75,1287.61) scale(1,1.04)" font-size="35.30" fill="#000">0</text>
<line x1="1043.70" y1="1157.47" x2="1050.20" y2="1157.47" stroke="#707070" stroke-width="2.4"/>
<text transform="translate(978.48,1168.79) scale(1,1.04)" font-size="35.30" fill="#000">200</text>
<line x1="1043.70" y1="1038.65" x2="1050.20" y2="1038.65" stroke="#707070" stroke-width="2.4"/>
<text transform="translate(978.48,1049.96) scale(1,1.04)" font-size="35.30" fill="#000">400</text>
<line x1="1043.70" y1="919.83" x2="1050.20" y2="919.83" stroke="#707070" stroke-width="2.4"/>
<text transform="translate(978.48,931.14) scale(1,1.04)" font-size="35.30" fill="#000">600</text>
<line x1="1043.70" y1="801.00" x2="1050.20" y2="801.00" stroke="#707070" stroke-width="2.4"/>
<text transform="translate(978.48,812.31) scale(1,1.04)" font-size="35.30" fill="#000">800</text>
<line x1="1050.20" y1="1276.30" x2="1366.00" y2="1276.30" stroke="#6a6a6a" stroke-width="2.3"/>
<line x1="1129.50" y1="1276.30" x2="1129.50" y2="1282.30" stroke="#6a6a6a" stroke-width="2.0"/>
<line x1="1287.10" y1="1276.30" x2="1287.10" y2="1282.30" stroke="#6a6a6a" stroke-width="2.0"/>
<text transform="translate(1104.28,1321.50) scale(1,1.04)" font-size="35.60" fill="#000">FM</text>
<text transform="translate(1222.62,1321.50) scale(1,1.04)" font-size="35.60" fill="#000">Non-FM</text>
<text transform="translate(902.00,1036.00) rotate(-90) scale(1,1.04)" x="-81.26" y="0" font-size="34.2">Number of</text>
<text transform="translate(944.90,1036.00) rotate(-90) scale(1,1.04)" x="-176.33" y="0" font-size="34.2">ultrasonic vocalizations</text>
<rect x="1071.70" y="1269.25" width="29.00" height="13.50" rx="6.75" fill="#000" stroke="#000" stroke-width="2.2"/>
<circle cx="1080.00" cy="1267.00" r="6.8" fill="none" stroke="#000" stroke-width="1.9"/>
<rect x="1115.75" y="1247.00" width="27.50" height="29.30" fill="#bcbcbc" stroke="#111" stroke-width="2.4"/>
<rect x="1122.75" y="1195.05" width="13.5" height="13.5" fill="none" stroke="#000" stroke-width="2.0"/>
<rect x="1122.75" y="1199.25" width="13.5" height="13.5" fill="none" stroke="#000" stroke-width="2.0"/>
<rect x="1122.75" y="1211.25" width="13.5" height="13.5" fill="none" stroke="#000" stroke-width="2.0"/>
<rect x="1122.75" y="1233.45" width="13.5" height="13.5" fill="none" stroke="#000" stroke-width="2.0"/>
<rect x="1122.75" y="1243.65" width="13.5" height="13.5" fill="none" stroke="#000" stroke-width="2.0"/>
<rect x="1115.75" y="1251.25" width="13.5" height="13.5" fill="none" stroke="#000" stroke-width="2.0"/>
<rect x="1129.75" y="1251.25" width="13.5" height="13.5" fill="none" stroke="#000" stroke-width="2.0"/>
<rect x="1115.75" y="1259.25" width="13.5" height="13.5" fill="none" stroke="#000" stroke-width="2.0"/>
<rect x="1129.75" y="1259.25" width="13.5" height="13.5" fill="none" stroke="#000" stroke-width="2.0"/>
<rect x="1122.75" y="1255.25" width="13.5" height="13.5" fill="none" stroke="#000" stroke-width="2.0"/>
<rect x="1115.75" y="1267.25" width="13.5" height="13.5" fill="none" stroke="#000" stroke-width="2.0"/>
<rect x="1129.75" y="1267.25" width="13.5" height="13.5" fill="none" stroke="#000" stroke-width="2.0"/>
<rect x="1159.25" y="1159.90" width="27.50" height="116.40" fill="#666666" stroke="#111" stroke-width="2.4"/>
<line x1="1173.00" y1="1122.30" x2="1173.00" y2="1194.90" stroke="#111" stroke-width="2.4"/>
<line x1="1165.50" y1="1122.30" x2="1180.50" y2="1122.30" stroke="#111" stroke-width="2.4"/>
<line x1="1165.50" y1="1194.90" x2="1180.50" y2="1194.90" stroke="#111" stroke-width="2.4"/>
<polygon points="1172.20,980.25 1178.95,992.00 1165.45,992.00" fill="none" stroke="#000" stroke-width="2.0" stroke-linejoin="round"/>
<polygon points="1169.60,1022.95 1176.35,1034.70 1162.85,1034.70" fill="none" stroke="#000" stroke-width="2.0" stroke-linejoin="round"/>
<polygon points="1175.60,1035.85 1182.35,1047.60 1168.85,1047.60" fill="none" stroke="#000" stroke-width="2.0" stroke-linejoin="round"/>
<polygon points="1172.20,1049.45 1178.95,1061.20 1165.45,1061.20" fill="none" stroke="#000" stroke-width="2.0" stroke-linejoin="round"/>
<polygon points="1169.60,1226.35 1176.35,1238.10 1162.85,1238.10" fill="none" stroke="#000" stroke-width="2.0" stroke-linejoin="round"/>
<polygon points="1180.00,1228.95 1186.75,1240.70 1173.25,1240.70" fill="none" stroke="#000" stroke-width="2.0" stroke-linejoin="round"/>
<polygon points="1163.00,1237.95 1169.75,1249.70 1156.25,1249.70" fill="none" stroke="#000" stroke-width="2.0" stroke-linejoin="round"/>
<polygon points="1175.00,1237.95 1181.75,1249.70 1168.25,1249.70" fill="none" stroke="#000" stroke-width="2.0" stroke-linejoin="round"/>
<polygon points="1175.00,1262.15 1181.75,1273.90 1168.25,1273.90" fill="none" stroke="#000" stroke-width="2.0" stroke-linejoin="round"/>
<polygon points="1167.00,1272.95 1173.75,1284.70 1160.25,1284.70" fill="none" stroke="#000" stroke-width="2.0" stroke-linejoin="round"/>
<polygon points="1179.00,1272.95 1185.75,1284.70 1172.25,1284.70" fill="none" stroke="#000" stroke-width="2.0" stroke-linejoin="round"/>
<rect x="1229.40" y="1269.25" width="29.00" height="13.50" rx="6.75" fill="#000" stroke="#000" stroke-width="2.2"/>
<circle cx="1238.00" cy="1267.00" r="6.8" fill="none" stroke="#000" stroke-width="1.9"/>
<rect x="1273.35" y="1255.60" width="27.50" height="20.70" fill="#bcbcbc" stroke="#111" stroke-width="2.4"/>
<rect x="1280.35" y="1218.05" width="13.5" height="13.5" fill="none" stroke="#000" stroke-width="2.0"/>
<rect x="1280.35" y="1221.45" width="13.5" height="13.5" fill="none" stroke="#000" stroke-width="2.0"/>
<rect x="1280.35" y="1233.45" width="13.5" height="13.5" fill="none" stroke="#000" stroke-width="2.0"/>
<rect x="1280.35" y="1243.65" width="13.5" height="13.5" fill="none" stroke="#000" stroke-width="2.0"/>
<rect x="1273.35" y="1251.25" width="13.5" height="13.5" fill="none" stroke="#000" stroke-width="2.0"/>
<rect x="1287.35" y="1251.25" width="13.5" height="13.5" fill="none" stroke="#000" stroke-width="2.0"/>
<rect x="1273.35" y="1259.25" width="13.5" height="13.5" fill="none" stroke="#000" stroke-width="2.0"/>
<rect x="1287.35" y="1259.25" width="13.5" height="13.5" fill="none" stroke="#000" stroke-width="2.0"/>
<rect x="1280.35" y="1255.25" width="13.5" height="13.5" fill="none" stroke="#000" stroke-width="2.0"/>
<rect x="1273.35" y="1267.25" width="13.5" height="13.5" fill="none" stroke="#000" stroke-width="2.0"/>
<rect x="1287.35" y="1267.25" width="13.5" height="13.5" fill="none" stroke="#000" stroke-width="2.0"/>
<rect x="1316.85" y="1223.10" width="27.50" height="53.20" fill="#666666" stroke="#111" stroke-width="2.4"/>
<line x1="1330.60" y1="1208.60" x2="1330.60" y2="1223.10" stroke="#111" stroke-width="2.4"/>
<line x1="1323.10" y1="1208.60" x2="1338.10" y2="1208.60" stroke="#111" stroke-width="2.4"/>
<polygon points="1322.60,1160.55 1329.35,1172.30 1315.85,1172.30" fill="none" stroke="#000" stroke-width="2.0" stroke-linejoin="round"/>
<polygon points="1338.60,1169.05 1345.35,1180.80 1331.85,1180.80" fill="none" stroke="#000" stroke-width="2.0" stroke-linejoin="round"/>
<polygon points="1331.90,1173.35 1338.65,1185.10 1325.15,1185.10" fill="none" stroke="#000" stroke-width="2.0" stroke-linejoin="round"/>
<polygon points="1322.60,1178.45 1329.35,1190.20 1315.85,1190.20" fill="none" stroke="#000" stroke-width="2.0" stroke-linejoin="round"/>
<polygon points="1330.60,1230.95 1337.35,1242.70 1323.85,1242.70" fill="none" stroke="#000" stroke-width="2.0" stroke-linejoin="round"/>
<polygon points="1338.60,1222.95 1345.35,1234.70 1331.85,1234.70" fill="none" stroke="#000" stroke-width="2.0" stroke-linejoin="round"/>
<polygon points="1322.60,1240.95 1329.35,1252.70 1315.85,1252.70" fill="none" stroke="#000" stroke-width="2.0" stroke-linejoin="round"/>
<polygon points="1338.60,1240.95 1345.35,1252.70 1331.85,1252.70" fill="none" stroke="#000" stroke-width="2.0" stroke-linejoin="round"/>
<polygon points="1330.60,1254.95 1337.35,1266.70 1323.85,1266.70" fill="none" stroke="#000" stroke-width="2.0" stroke-linejoin="round"/>
<polygon points="1322.60,1260.95 1329.35,1272.70 1315.85,1272.70" fill="none" stroke="#000" stroke-width="2.0" stroke-linejoin="round"/>
<polygon points="1338.60,1258.95 1345.35,1270.70 1331.85,1270.70" fill="none" stroke="#000" stroke-width="2.0" stroke-linejoin="round"/>
<polygon points="1325.60,1272.95 1332.35,1284.70 1318.85,1284.70" fill="none" stroke="#000" stroke-width="2.0" stroke-linejoin="round"/>
<rect x="1382.20" y="959.80" width="46.50" height="25.30" fill="#fdfdfd" stroke="#222" stroke-width="2.5"/>
<text transform="translate(1453.29,983.50) scale(1,1.04)" font-size="34.30" fill="#000">Basal</text>
<rect x="1382.20" y="1007.00" width="46.50" height="25.30" fill="#bcbcbc" stroke="#222" stroke-width="2.5"/>
<text transform="translate(1453.29,1030.30) scale(1,1.04)" font-size="34.30" fill="#000">Holding</text>
<rect x="1382.20" y="1060.50" width="46.50" height="25.30" fill="#666666" stroke="#222" stroke-width="2.5"/>
<text transform="translate(1454.54,1083.80) scale(1,1.04)" font-size="34.30" fill="#000">Stroking</text>
<polyline points="1585.70,962.60 1598.30,962.60 1598.30,1014.40 1585.70,1014.40" stroke="#a8a8a8" stroke-width="2.4" fill="none" stroke-linejoin="round"/>
<polyline points="1585.70,1026.10 1600.00,1026.10 1600.00,1078.00 1585.70,1078.00" stroke="#a8a8a8" stroke-width="2.4" fill="none" stroke-linejoin="round"/>
<polyline points="1620.80,961.80 1633.90,961.80 1633.90,1078.00 1620.80,1078.00" stroke="#a8a8a8" stroke-width="2.4" fill="none" stroke-linejoin="round"/>
<text transform="translate(1611.30,1007.30) scale(0.8,1)" font-family="'Noto Serif CJK SC', 'Liberation Serif', serif" font-size="43.37" text-anchor="middle" fill="#000">&#8224;</text>
<text transform="translate(1611.30,1066.70) scale(0.8,1)" font-family="'Noto Serif CJK SC', 'Liberation Serif', serif" font-size="43.37" text-anchor="middle" fill="#000">&#8224;</text>
<text transform="translate(1650.90,1034.87) scale(0.8,1)" font-family="'Noto Serif CJK SC', 'Liberation Serif', serif" font-size="44.34" text-anchor="middle" fill="#000">&#8224;</text>
<text transform="translate(69.64,1428.70) scale(1,1.04)" font-size="44.30" font-weight="bold" fill="#000">E</text>
<text transform="translate(310.49,1429.50) scale(1,1.04)" font-size="43.30" font-weight="bold" fill="#000">S7-10</text>
<line x1="184.00" y1="1492.50" x2="184.00" y2="1970.70" stroke="#707070" stroke-width="2.4"/>
<line x1="177.50" y1="1969.50" x2="184.00" y2="1969.50" stroke="#707070" stroke-width="2.4"/>
<text transform="translate(152.05,1980.81) scale(1,1.04)" font-size="35.30" fill="#000">0</text>
<line x1="177.50" y1="1850.50" x2="184.00" y2="1850.50" stroke="#707070" stroke-width="2.4"/>
<text transform="translate(112.78,1861.81) scale(1,1.04)" font-size="35.30" fill="#000">200</text>
<line x1="177.50" y1="1731.50" x2="184.00" y2="1731.50" stroke="#707070" stroke-width="2.4"/>
<text transform="translate(112.78,1742.81) scale(1,1.04)" font-size="35.30" fill="#000">400</text>
<line x1="177.50" y1="1612.50" x2="184.00" y2="1612.50" stroke="#707070" stroke-width="2.4"/>
<text transform="translate(112.78,1623.81) scale(1,1.04)" font-size="35.30" fill="#000">600</text>
<line x1="177.50" y1="1493.50" x2="184.00" y2="1493.50" stroke="#707070" stroke-width="2.4"/>
<text transform="translate(112.78,1504.81) scale(1,1.04)" font-size="35.30" fill="#000">800</text>
<line x1="184.00" y1="1969.50" x2="502.00" y2="1969.50" stroke="#6a6a6a" stroke-width="2.3"/>
<line x1="264.00" y1="1969.50" x2="264.00" y2="1975.50" stroke="#6a6a6a" stroke-width="2.0"/>
<line x1="422.30" y1="1969.50" x2="422.30" y2="1975.50" stroke="#6a6a6a" stroke-width="2.0"/>
<text transform="translate(237.78,2014.30) scale(1,1.04)" font-size="35.60" fill="#000">FM</text>
<text transform="translate(358.02,2014.30) scale(1,1.04)" font-size="35.60" fill="#000">Non-FM</text>
<text transform="translate(35.80,1728.50) rotate(-90) scale(1,1.04)" x="-81.26" y="0" font-size="34.2">Number of</text>
<text transform="translate(78.70,1728.50) rotate(-90) scale(1,1.04)" x="-176.33" y="0" font-size="34.2">ultrasonic vocalizations</text>
<rect x="206.30" y="1962.50" width="29.00" height="14.00" rx="7.00" fill="#000" stroke="#000" stroke-width="2.2"/>
<rect x="250.25" y="1948.70" width="27.50" height="20.80" fill="#bcbcbc" stroke="#111" stroke-width="2.4"/>
<rect x="257.25" y="1859.25" width="13.5" height="13.5" fill="none" stroke="#000" stroke-width="2.0"/>
<rect x="257.25" y="1923.25" width="13.5" height="13.5" fill="none" stroke="#000" stroke-width="2.0"/>
<rect x="257.25" y="1934.95" width="13.5" height="13.5" fill="none" stroke="#000" stroke-width="2.0"/>
<rect x="254.25" y="1939.25" width="13.5" height="13.5" fill="none" stroke="#000" stroke-width="2.0"/>
<rect x="260.25" y="1941.95" width="13.5" height="13.5" fill="none" stroke="#000" stroke-width="2.0"/>
<rect x="250.25" y="1948.25" width="13.5" height="13.5" fill="none" stroke="#000" stroke-width="2.0"/>
<rect x="264.25" y="1948.25" width="13.5" height="13.5" fill="none" stroke="#000" stroke-width="2.0"/>
<rect x="250.25" y="1956.25" width="13.5" height="13.5" fill="none" stroke="#000" stroke-width="2.0"/>
<rect x="264.25" y="1956.25" width="13.5" height="13.5" fill="none" stroke="#000" stroke-width="2.0"/>
<rect x="257.25" y="1952.25" width="13.5" height="13.5" fill="none" stroke="#000" stroke-width="2.0"/>
<rect x="250.25" y="1964.25" width="13.5" height="13.5" fill="none" stroke="#000" stroke-width="2.0"/>
<rect x="264.25" y="1964.25" width="13.5" height="13.5" fill="none" stroke="#000" stroke-width="2.0"/>
<rect x="293.75" y="1891.70" width="27.50" height="77.80" fill="#666666" stroke="#111" stroke-width="2.4"/>
<line x1="307.50" y1="1851.40" x2="307.50" y2="1891.70" stroke="#111" stroke-width="2.4"/>
<line x1="300.00" y1="1851.40" x2="315.00" y2="1851.40" stroke="#111" stroke-width="2.4"/>
<polygon points="307.50,1567.85 314.25,1579.60 300.75,1579.60" fill="none" stroke="#000" stroke-width="2.0" stroke-linejoin="round"/>
<polygon points="302.00,1833.35 308.75,1845.10 295.25,1845.10" fill="none" stroke="#000" stroke-width="2.0" stroke-linejoin="round"/>
<polygon points="313.00,1833.35 319.75,1845.10 306.25,1845.10" fill="none" stroke="#000" stroke-width="2.0" stroke-linejoin="round"/>
<polygon points="307.50,1917.25 314.25,1929.00 300.75,1929.00" fill="none" stroke="#000" stroke-width="2.0" stroke-linejoin="round"/>
<polygon points="312.00,1928.85 318.75,1940.60 305.25,1940.60" fill="none" stroke="#000" stroke-width="2.0" stroke-linejoin="round"/>
<polygon points="300.00,1934.65 306.75,1946.40 293.25,1946.40" fill="none" stroke="#000" stroke-width="2.0" stroke-linejoin="round"/>
<polygon points="315.00,1949.85 321.75,1961.60 308.25,1961.60" fill="none" stroke="#000" stroke-width="2.0" stroke-linejoin="round"/>
<polygon points="305.00,1952.15 311.75,1963.90 298.25,1963.90" fill="none" stroke="#000" stroke-width="2.0" stroke-linejoin="round"/>
<polygon points="298.00,1964.95 304.75,1976.70 291.25,1976.70" fill="none" stroke="#000" stroke-width="2.0" stroke-linejoin="round"/>
<polygon points="316.00,1964.95 322.75,1976.70 309.25,1976.70" fill="none" stroke="#000" stroke-width="2.0" stroke-linejoin="round"/>
<rect x="364.80" y="1962.50" width="29.00" height="14.00" rx="7.00" fill="#000" stroke="#000" stroke-width="2.2"/>
<rect x="408.55" y="1956.90" width="27.50" height="12.60" fill="#bcbcbc" stroke="#111" stroke-width="2.4"/>
<rect x="415.55" y="1895.35" width="13.5" height="13.5" fill="none" stroke="#000" stroke-width="2.0"/>
<rect x="415.55" y="1931.45" width="13.5" height="13.5" fill="none" stroke="#000" stroke-width="2.0"/>
<rect x="411.55" y="1938.45" width="13.5" height="13.5" fill="none" stroke="#000" stroke-width="2.0"/>
<rect x="415.55" y="1943.25" width="13.5" height="13.5" fill="none" stroke="#000" stroke-width="2.0"/>
<rect x="408.55" y="1950.25" width="13.5" height="13.5" fill="none" stroke="#000" stroke-width="2.0"/>
<rect x="422.55" y="1950.25" width="13.5" height="13.5" fill="none" stroke="#000" stroke-width="2.0"/>
<rect x="408.55" y="1957.25" width="13.5" height="13.5" fill="none" stroke="#000" stroke-width="2.0"/>
<rect x="422.55" y="1957.25" width="13.5" height="13.5" fill="none" stroke="#000" stroke-width="2.0"/>
<rect x="415.55" y="1954.25" width="13.5" height="13.5" fill="none" stroke="#000" stroke-width="2.0"/>
<rect x="408.55" y="1964.25" width="13.5" height="13.5" fill="none" stroke="#000" stroke-width="2.0"/>
<rect x="422.55" y="1964.25" width="13.5" height="13.5" fill="none" stroke="#000" stroke-width="2.0"/>
<rect x="452.25" y="1930.10" width="27.50" height="39.40" fill="#666666" stroke="#111" stroke-width="2.4"/>
<line x1="466.00" y1="1915.00" x2="466.00" y2="1930.10" stroke="#111" stroke-width="2.4"/>
<line x1="458.50" y1="1915.00" x2="473.50" y2="1915.00" stroke="#111" stroke-width="2.4"/>
<polygon points="466.00,1833.35 472.75,1845.10 459.25,1845.10" fill="none" stroke="#000" stroke-width="2.0" stroke-linejoin="round"/>
<polygon points="466.00,1882.25 472.75,1894.00 459.25,1894.00" fill="none" stroke="#000" stroke-width="2.0" stroke-linejoin="round"/>
<polygon points="466.00,1896.25 472.75,1908.00 459.25,1908.00" fill="none" stroke="#000" stroke-width="2.0" stroke-linejoin="round"/>
<polygon points="477.00,1919.55 483.75,1931.30 470.25,1931.30" fill="none" stroke="#000" stroke-width="2.0" stroke-linejoin="round"/>
<polygon points="462.00,1933.55 468.75,1945.30 455.25,1945.30" fill="none" stroke="#000" stroke-width="2.0" stroke-linejoin="round"/>
<polygon points="475.00,1942.85 481.75,1954.60 468.25,1954.60" fill="none" stroke="#000" stroke-width="2.0" stroke-linejoin="round"/>
<polygon points="463.00,1947.95 469.75,1959.70 456.25,1959.70" fill="none" stroke="#000" stroke-width="2.0" stroke-linejoin="round"/>
<polygon points="457.00,1964.95 463.75,1976.70 450.25,1976.70" fill="none" stroke="#000" stroke-width="2.0" stroke-linejoin="round"/>
<polygon points="475.00,1964.95 481.75,1976.70 468.25,1976.70" fill="none" stroke="#000" stroke-width="2.0" stroke-linejoin="round"/>
<rect x="516.80" y="1651.60" width="46.50" height="25.30" fill="#fdfdfd" stroke="#222" stroke-width="2.5"/>
<text transform="translate(588.39,1675.70) scale(1,1.04)" font-size="34.30" fill="#000">Basal</text>
<rect x="516.80" y="1702.90" width="46.50" height="25.30" fill="#bcbcbc" stroke="#222" stroke-width="2.5"/>
<text transform="translate(588.39,1726.30) scale(1,1.04)" font-size="34.30" fill="#000">Holding</text>
<rect x="516.80" y="1753.80" width="46.50" height="25.30" fill="#666666" stroke="#222" stroke-width="2.5"/>
<text transform="translate(589.64,1777.50) scale(1,1.04)" font-size="34.30" fill="#000">Stroking</text>
<polyline points="721.60,1655.10 734.90,1655.10 734.90,1706.90 721.60,1706.90" stroke="#a8a8a8" stroke-width="2.4" fill="none" stroke-linejoin="round"/>
<polyline points="721.60,1719.50 735.80,1719.50 735.80,1770.80 721.60,1770.80" stroke="#a8a8a8" stroke-width="2.4" fill="none" stroke-linejoin="round"/>
<polyline points="756.70,1654.60 770.10,1654.60 770.10,1770.80 756.70,1770.80" stroke="#a8a8a8" stroke-width="2.4" fill="none" stroke-linejoin="round"/>
<text x="749.50" y="1689.28" font-family="'DejaVu Sans', sans-serif" font-size="23.00" text-anchor="middle" fill="#000">&#10043;</text>
<text x="749.50" y="1751.18" font-family="'DejaVu Sans', sans-serif" font-size="23.00" text-anchor="middle" fill="#000">&#10043;</text>
<text x="785.60" y="1721.08" font-family="'DejaVu Sans', sans-serif" font-size="23.00" text-anchor="middle" fill="#000">&#10043;</text>
<text transform="translate(975.84,1428.70) scale(1,1.04)" font-size="44.30" font-weight="bold" fill="#000">F</text>
<text transform="translate(1167.59,1425.50) scale(1,1.04)" font-size="43.30" font-weight="bold" fill="#000">S3-10</text>
<line x1="1055.10" y1="1492.50" x2="1055.10" y2="1971.60" stroke="#707070" stroke-width="2.4"/>
<line x1="1048.60" y1="1970.40" x2="1055.10" y2="1970.40" stroke="#707070" stroke-width="2.4"/>
<text transform="translate(1022.25,1981.71) scale(1,1.04)" font-size="35.30" fill="#000">0</text>
<line x1="1048.60" y1="1851.18" x2="1055.10" y2="1851.18" stroke="#707070" stroke-width="2.4"/>
<text transform="translate(982.98,1862.49) scale(1,1.04)" font-size="35.30" fill="#000">200</text>
<line x1="1048.60" y1="1731.95" x2="1055.10" y2="1731.95" stroke="#707070" stroke-width="2.4"/>
<text transform="translate(982.98,1743.26) scale(1,1.04)" font-size="35.30" fill="#000">400</text>
<line x1="1048.60" y1="1612.72" x2="1055.10" y2="1612.72" stroke="#707070" stroke-width="2.4"/>
<text transform="translate(982.98,1624.04) scale(1,1.04)" font-size="35.30" fill="#000">600</text>
<line x1="1048.60" y1="1493.50" x2="1055.10" y2="1493.50" stroke="#707070" stroke-width="2.4"/>
<text transform="translate(982.98,1504.81) scale(1,1.04)" font-size="35.30" fill="#000">800</text>
<line x1="1055.10" y1="1970.40" x2="1373.00" y2="1970.40" stroke="#6a6a6a" stroke-width="2.3"/>
<line x1="1134.70" y1="1970.40" x2="1134.70" y2="1976.40" stroke="#6a6a6a" stroke-width="2.0"/>
<line x1="1293.10" y1="1970.40" x2="1293.10" y2="1976.40" stroke="#6a6a6a" stroke-width="2.0"/>
<text transform="translate(1108.98,2015.20) scale(1,1.04)" font-size="35.60" fill="#000">FM</text>
<text transform="translate(1228.72,2015.20) scale(1,1.04)" font-size="35.60" fill="#000">Non-FM</text>
<text transform="translate(906.90,1729.00) rotate(-90) scale(1,1.04)" x="-81.26" y="0" font-size="34.2">Number of</text>
<text transform="translate(949.80,1729.00) rotate(-90) scale(1,1.04)" x="-176.33" y="0" font-size="34.2">ultrasonic vocalizations</text>
<rect x="1077.20" y="1963.00" width="29.00" height="14.00" rx="7.00" fill="#000" stroke="#000" stroke-width="2.2"/>
<rect x="1120.95" y="1909.00" width="27.50" height="61.40" fill="#bcbcbc" stroke="#111" stroke-width="2.4"/>
<rect x="1127.45" y="1817.85" width="13.5" height="13.5" fill="none" stroke="#000" stroke-width="2.0"/>
<rect x="1124.25" y="1862.65" width="13.5" height="13.5" fill="none" stroke="#000" stroke-width="2.0"/>
<rect x="1131.95" y="1869.25" width="13.5" height="13.5" fill="none" stroke="#000" stroke-width="2.0"/>
<rect x="1127.45" y="1890.45" width="13.5" height="13.5" fill="none" stroke="#000" stroke-width="2.0"/>
<rect x="1124.25" y="1906.25" width="13.5" height="13.5" fill="none" stroke="#000" stroke-width="2.0"/>
<rect x="1131.25" y="1906.25" width="13.5" height="13.5" fill="none" stroke="#000" stroke-width="2.0"/>
<rect x="1121.25" y="1922.05" width="13.5" height="13.5" fill="none" stroke="#000" stroke-width="2.0"/>
<rect x="1134.25" y="1922.05" width="13.5" height="13.5" fill="none" stroke="#000" stroke-width="2.0"/>
<rect x="1127.25" y="1943.25" width="13.5" height="13.5" fill="none" stroke="#000" stroke-width="2.0"/>
<rect x="1123.25" y="1959.05" width="13.5" height="13.5" fill="none" stroke="#000" stroke-width="2.0"/>
<rect x="1164.55" y="1815.30" width="27.50" height="155.10" fill="#666666" stroke="#111" stroke-width="2.4"/>
<line x1="1178.30" y1="1774.90" x2="1178.30" y2="1852.00" stroke="#111" stroke-width="2.4"/>
<line x1="1170.80" y1="1774.90" x2="1185.80" y2="1774.90" stroke="#111" stroke-width="2.4"/>
<line x1="1170.80" y1="1852.00" x2="1185.80" y2="1852.00" stroke="#111" stroke-width="2.4"/>
<polygon points="1178.30,1552.15 1185.05,1563.90 1171.55,1563.90" fill="none" stroke="#000" stroke-width="2.0" stroke-linejoin="round"/>
<polygon points="1178.30,1634.05 1185.05,1645.80 1171.55,1645.80" fill="none" stroke="#000" stroke-width="2.0" stroke-linejoin="round"/>
<polygon points="1178.30,1676.25 1185.05,1688.00 1171.55,1688.00" fill="none" stroke="#000" stroke-width="2.0" stroke-linejoin="round"/>
<polygon points="1178.30,1702.65 1185.05,1714.40 1171.55,1714.40" fill="none" stroke="#000" stroke-width="2.0" stroke-linejoin="round"/>
<polygon points="1178.30,1833.35 1185.05,1845.10 1171.55,1845.10" fill="none" stroke="#000" stroke-width="2.0" stroke-linejoin="round"/>
<polygon points="1178.30,1849.15 1185.05,1860.90 1171.55,1860.90" fill="none" stroke="#000" stroke-width="2.0" stroke-linejoin="round"/>
<polygon points="1170.00,1867.65 1176.75,1879.40 1163.25,1879.40" fill="none" stroke="#000" stroke-width="2.0" stroke-linejoin="round"/>
<polygon points="1187.00,1862.35 1193.75,1874.10 1180.25,1874.10" fill="none" stroke="#000" stroke-width="2.0" stroke-linejoin="round"/>
<polygon points="1178.30,1890.15 1185.05,1901.90 1171.55,1901.90" fill="none" stroke="#000" stroke-width="2.0" stroke-linejoin="round"/>
<polygon points="1178.30,1921.75 1185.05,1933.50 1171.55,1933.50" fill="none" stroke="#000" stroke-width="2.0" stroke-linejoin="round"/>
<polygon points="1178.30,1942.95 1185.05,1954.70 1171.55,1954.70" fill="none" stroke="#000" stroke-width="2.0" stroke-linejoin="round"/>
<polygon points="1178.30,1958.75 1185.05,1970.50 1171.55,1970.50" fill="none" stroke="#000" stroke-width="2.0" stroke-linejoin="round"/>
<rect x="1235.60" y="1963.00" width="29.00" height="14.00" rx="7.00" fill="#000" stroke="#000" stroke-width="2.2"/>
<rect x="1279.35" y="1909.00" width="27.50" height="61.40" fill="#bcbcbc" stroke="#111" stroke-width="2.4"/>
<rect x="1286.85" y="1874.55" width="13.5" height="13.5" fill="none" stroke="#000" stroke-width="2.0"/>
<rect x="1278.35" y="1906.25" width="13.5" height="13.5" fill="none" stroke="#000" stroke-width="2.0"/>
<rect x="1293.35" y="1906.25" width="13.5" height="13.5" fill="none" stroke="#000" stroke-width="2.0"/>
<rect x="1283.35" y="1916.85" width="13.5" height="13.5" fill="none" stroke="#000" stroke-width="2.0"/>
<rect x="1291.35" y="1922.05" width="13.5" height="13.5" fill="none" stroke="#000" stroke-width="2.0"/>
<rect x="1288.35" y="1930.05" width="13.5" height="13.5" fill="none" stroke="#000" stroke-width="2.0"/>
<rect x="1286.35" y="1945.85" width="13.5" height="13.5" fill="none" stroke="#000" stroke-width="2.0"/>
<rect x="1286.35" y="1961.65" width="13.5" height="13.5" fill="none" stroke="#000" stroke-width="2.0"/>
<rect x="1279.35" y="1938.25" width="13.5" height="13.5" fill="none" stroke="#000" stroke-width="2.0"/>
<rect x="1293.35" y="1951.25" width="13.5" height="13.5" fill="none" stroke="#000" stroke-width="2.0"/>
<rect x="1323.25" y="1907.70" width="27.50" height="62.70" fill="#666666" stroke="#111" stroke-width="2.4"/>
<polygon points="1328.00,1829.35 1334.75,1841.10 1321.25,1841.10" fill="none" stroke="#000" stroke-width="2.0" stroke-linejoin="round"/>
<polygon points="1346.00,1829.35 1352.75,1841.10 1339.25,1841.10" fill="none" stroke="#000" stroke-width="2.0" stroke-linejoin="round"/>
<polygon points="1337.00,1839.95 1343.75,1851.70 1330.25,1851.70" fill="none" stroke="#000" stroke-width="2.0" stroke-linejoin="round"/>
<polygon points="1328.00,1884.85 1334.75,1896.60 1321.25,1896.60" fill="none" stroke="#000" stroke-width="2.0" stroke-linejoin="round"/>
<polygon points="1343.00,1884.85 1349.75,1896.60 1336.25,1896.60" fill="none" stroke="#000" stroke-width="2.0" stroke-linejoin="round"/>
<polygon points="1337.00,1895.35 1343.75,1907.10 1330.25,1907.10" fill="none" stroke="#000" stroke-width="2.0" stroke-linejoin="round"/>
<polygon points="1337.00,1908.55 1343.75,1920.30 1330.25,1920.30" fill="none" stroke="#000" stroke-width="2.0" stroke-linejoin="round"/>
<polygon points="1345.00,1927.05 1351.75,1938.80 1338.25,1938.80" fill="none" stroke="#000" stroke-width="2.0" stroke-linejoin="round"/>
<polygon points="1328.00,1937.65 1334.75,1949.40 1321.25,1949.40" fill="none" stroke="#000" stroke-width="2.0" stroke-linejoin="round"/>
<polygon points="1345.00,1937.65 1351.75,1949.40 1338.25,1949.40" fill="none" stroke="#000" stroke-width="2.0" stroke-linejoin="round"/>
<polygon points="1337.00,1948.15 1343.75,1959.90 1330.25,1959.90" fill="none" stroke="#000" stroke-width="2.0" stroke-linejoin="round"/>
<polygon points="1337.00,1958.75 1343.75,1970.50 1330.25,1970.50" fill="none" stroke="#000" stroke-width="2.0" stroke-linejoin="round"/>
<rect x="1388.10" y="1651.60" width="46.50" height="25.30" fill="#fdfdfd" stroke="#222" stroke-width="2.5"/>
<text transform="translate(1459.49,1675.70) scale(1,1.04)" font-size="34.30" fill="#000">Basal</text>
<rect x="1388.10" y="1702.80" width="46.50" height="25.30" fill="#bcbcbc" stroke="#222" stroke-width="2.5"/>
<text transform="translate(1459.49,1726.70) scale(1,1.04)" font-size="34.30" fill="#000">Holding</text>
<rect x="1388.10" y="1753.80" width="46.50" height="25.30" fill="#666666" stroke="#222" stroke-width="2.5"/>
<text transform="translate(1460.74,1777.50) scale(1,1.04)" font-size="34.30" fill="#000">Stroking</text>
<polyline points="1177.50,1536.80 1177.50,1527.50 1340.40,1527.50 1340.40,1795.50" stroke="#a5a5a5" stroke-width="2.5" fill="none" stroke-linejoin="round"/>
<polyline points="1090.40,1765.10 1090.40,1571.90 1178.80,1571.90 1178.80,1585.10" stroke="#a5a5a5" stroke-width="2.5" fill="none" stroke-linejoin="round"/>
<polyline points="1133.40,1742.70 1133.40,1616.80 1178.80,1616.80 1178.80,1629.20" stroke="#a5a5a5" stroke-width="2.5" fill="none" stroke-linejoin="round"/>
<polyline points="1090.40,1913.00 1090.40,1794.70 1136.60,1794.70 1136.60,1808.70" stroke="#a5a5a5" stroke-width="2.5" fill="none" stroke-linejoin="round"/>
<polyline points="1250.10,1939.40 1250.10,1846.50 1294.50,1846.50 1294.50,1857.60" stroke="#a5a5a5" stroke-width="2.5" fill="none" stroke-linejoin="round"/>
<text transform="translate(1260.10,1520.96) scale(0.8,1)" font-family="'Noto Serif CJK SC', 'Liberation Serif', serif" font-size="41.33" text-anchor="middle" fill="#000">&#8224;</text>
<text transform="translate(1130.80,1565.81) scale(0.8,1)" font-family="'Noto Serif CJK SC', 'Liberation Serif', serif" font-size="42.89" text-anchor="middle" fill="#000">&#8224;</text>
<text transform="translate(1156.90,1613.44) scale(0.8,1)" font-family="'Noto Serif CJK SC', 'Liberation Serif', serif" font-size="42.05" text-anchor="middle" fill="#000">&#8224;</text>
<text transform="translate(1111.50,1788.87) scale(0.8,1)" font-family="'Noto Serif CJK SC', 'Liberation Serif', serif" font-size="44.46" text-anchor="middle" fill="#000">&#8224;</text>
<text transform="translate(1271.20,1844.41) scale(0.8,1)" font-family="'Noto Serif CJK SC', 'Liberation Serif', serif" font-size="43.01" text-anchor="middle" fill="#000">&#8224;</text>
</svg>
</body></html>
